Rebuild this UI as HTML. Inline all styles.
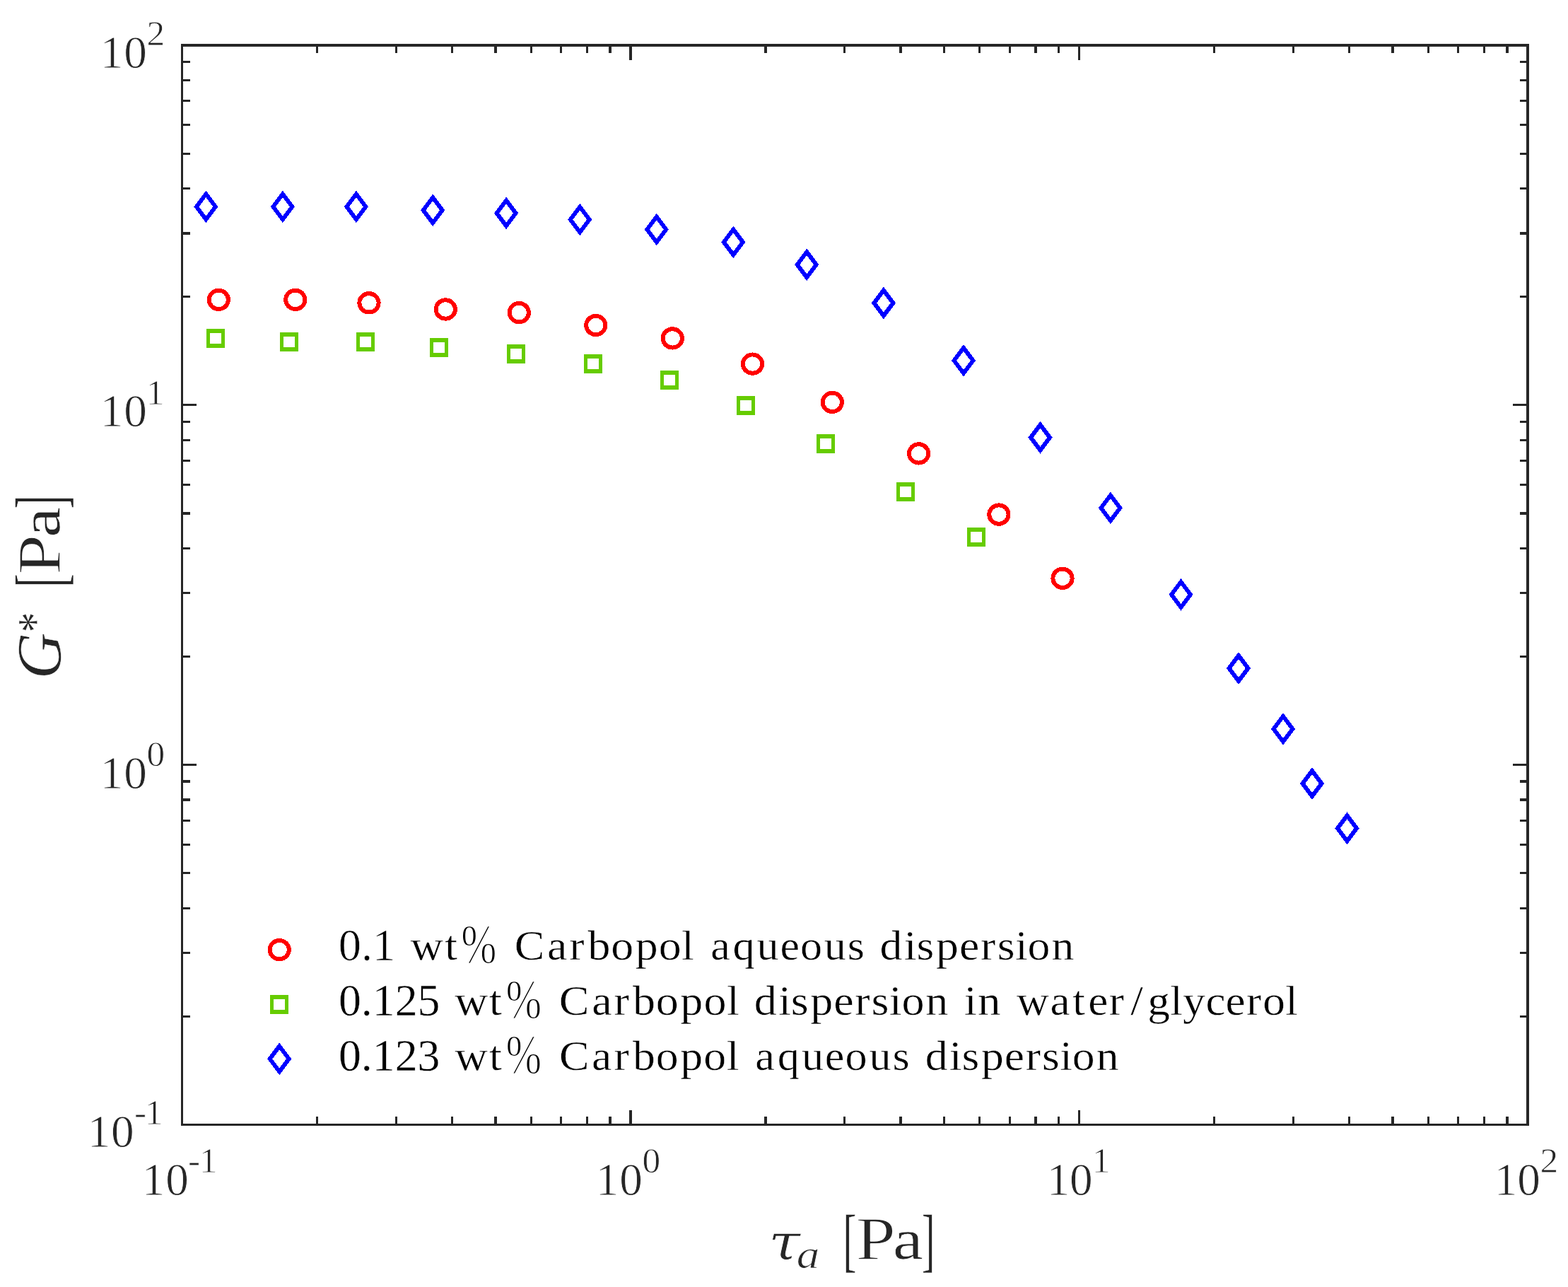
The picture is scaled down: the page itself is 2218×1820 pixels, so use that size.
<!DOCTYPE html>
<html lang="en"><head><meta charset="utf-8"><title>G* versus stress amplitude</title>
<style>
html,body{margin:0;padding:0;background:#fff;}
body{width:2218px;height:1820px;overflow:hidden;}
svg{display:block;}
text{font-family:"Liberation Serif","DejaVu Serif",serif;white-space:pre;stroke-linejoin:round;}
.tl,.al{fill:#262626;}
.lg{fill:#000;}
</style></head><body>
<svg xmlns="http://www.w3.org/2000/svg" width="2218" height="1820" viewBox="0 0 2218 1820">
<rect x="0" y="0" width="2218" height="1820" fill="#ffffff"/>
<g fill="#262626" shape-rendering="crispEdges">
<rect x="447" y="1579" width="3" height="12"/>
<rect x="447" y="64" width="3" height="11"/>
<rect x="258" y="1436" width="11" height="3"/>
<rect x="2150" y="1436" width="11" height="3"/>
<rect x="559" y="1579" width="3" height="12"/>
<rect x="559" y="64" width="3" height="11"/>
<rect x="258" y="1346" width="11" height="3"/>
<rect x="2150" y="1346" width="11" height="3"/>
<rect x="638" y="1579" width="3" height="12"/>
<rect x="638" y="64" width="3" height="11"/>
<rect x="258" y="1283" width="11" height="3"/>
<rect x="2150" y="1283" width="11" height="3"/>
<rect x="699" y="1579" width="4" height="12"/>
<rect x="699" y="64" width="4" height="11"/>
<rect x="258" y="1233" width="11" height="3"/>
<rect x="2150" y="1233" width="11" height="3"/>
<rect x="750" y="1579" width="3" height="12"/>
<rect x="750" y="64" width="3" height="11"/>
<rect x="258" y="1193" width="11" height="3"/>
<rect x="2150" y="1193" width="11" height="3"/>
<rect x="792" y="1579" width="3" height="12"/>
<rect x="792" y="64" width="3" height="11"/>
<rect x="258" y="1159" width="11" height="3"/>
<rect x="2150" y="1159" width="11" height="3"/>
<rect x="829" y="1579" width="3" height="12"/>
<rect x="829" y="64" width="3" height="11"/>
<rect x="258" y="1129" width="11" height="4"/>
<rect x="2150" y="1129" width="11" height="4"/>
<rect x="861" y="1579" width="4" height="12"/>
<rect x="861" y="64" width="4" height="11"/>
<rect x="258" y="1103" width="11" height="4"/>
<rect x="2150" y="1103" width="11" height="4"/>
<rect x="890" y="1570" width="4" height="21"/>
<rect x="890" y="64" width="4" height="21"/>
<rect x="258" y="1080" width="20" height="3"/>
<rect x="2140" y="1080" width="21" height="3"/>
<rect x="1081" y="1579" width="4" height="12"/>
<rect x="1081" y="64" width="4" height="11"/>
<rect x="258" y="927" width="11" height="3"/>
<rect x="2150" y="927" width="11" height="3"/>
<rect x="1193" y="1579" width="3" height="12"/>
<rect x="1193" y="64" width="3" height="11"/>
<rect x="258" y="837" width="11" height="3"/>
<rect x="2150" y="837" width="11" height="3"/>
<rect x="1272" y="1579" width="4" height="12"/>
<rect x="1272" y="64" width="4" height="11"/>
<rect x="258" y="774" width="11" height="3"/>
<rect x="2150" y="774" width="11" height="3"/>
<rect x="1334" y="1579" width="3" height="12"/>
<rect x="1334" y="64" width="3" height="11"/>
<rect x="258" y="724" width="11" height="4"/>
<rect x="2150" y="724" width="11" height="4"/>
<rect x="1384" y="1579" width="3" height="12"/>
<rect x="1384" y="64" width="3" height="11"/>
<rect x="258" y="684" width="11" height="3"/>
<rect x="2150" y="684" width="11" height="3"/>
<rect x="1427" y="1579" width="3" height="12"/>
<rect x="1427" y="64" width="3" height="11"/>
<rect x="258" y="650" width="11" height="3"/>
<rect x="2150" y="650" width="11" height="3"/>
<rect x="1463" y="1579" width="4" height="12"/>
<rect x="1463" y="64" width="4" height="11"/>
<rect x="258" y="621" width="11" height="3"/>
<rect x="2150" y="621" width="11" height="3"/>
<rect x="1496" y="1579" width="3" height="12"/>
<rect x="1496" y="64" width="3" height="11"/>
<rect x="258" y="595" width="11" height="3"/>
<rect x="2150" y="595" width="11" height="3"/>
<rect x="1525" y="1570" width="3" height="21"/>
<rect x="1525" y="64" width="3" height="21"/>
<rect x="258" y="571" width="20" height="3"/>
<rect x="2140" y="571" width="21" height="3"/>
<rect x="1716" y="1579" width="3" height="12"/>
<rect x="1716" y="64" width="3" height="11"/>
<rect x="258" y="418" width="11" height="3"/>
<rect x="2150" y="418" width="11" height="3"/>
<rect x="1828" y="1579" width="3" height="12"/>
<rect x="1828" y="64" width="3" height="11"/>
<rect x="258" y="328" width="11" height="4"/>
<rect x="2150" y="328" width="11" height="4"/>
<rect x="1907" y="1579" width="3" height="12"/>
<rect x="1907" y="64" width="3" height="11"/>
<rect x="258" y="265" width="11" height="3"/>
<rect x="2150" y="265" width="11" height="3"/>
<rect x="1968" y="1579" width="4" height="12"/>
<rect x="1968" y="64" width="4" height="11"/>
<rect x="258" y="216" width="11" height="3"/>
<rect x="2150" y="216" width="11" height="3"/>
<rect x="2019" y="1579" width="3" height="12"/>
<rect x="2019" y="64" width="3" height="11"/>
<rect x="258" y="175" width="11" height="3"/>
<rect x="2150" y="175" width="11" height="3"/>
<rect x="2061" y="1579" width="3" height="12"/>
<rect x="2061" y="64" width="3" height="11"/>
<rect x="258" y="141" width="11" height="3"/>
<rect x="2150" y="141" width="11" height="3"/>
<rect x="2098" y="1579" width="3" height="12"/>
<rect x="2098" y="64" width="3" height="11"/>
<rect x="258" y="112" width="11" height="3"/>
<rect x="2150" y="112" width="11" height="3"/>
<rect x="2130" y="1579" width="4" height="12"/>
<rect x="2130" y="64" width="4" height="11"/>
<rect x="258" y="86" width="11" height="3"/>
<rect x="2150" y="86" width="11" height="3"/>
<rect x="256" y="62" width="1907" height="4"/>
<rect x="256" y="1589" width="1907" height="3"/>
<rect x="256" y="62" width="3" height="1530"/>
<rect x="2159" y="62" width="4" height="1530"/>
</g>
<g fill="none" stroke="#ff0000" stroke-width="5.9" shape-rendering="crispEdges">
<ellipse cx="309.3" cy="423.9" rx="13.65" ry="13.2"/>
<ellipse cx="417.8" cy="423.9" rx="13.65" ry="13.2"/>
<ellipse cx="522.0" cy="428.3" rx="13.65" ry="13.2"/>
<ellipse cx="630.3" cy="437.5" rx="13.65" ry="13.2"/>
<ellipse cx="734.3" cy="442.1" rx="13.65" ry="13.2"/>
<ellipse cx="842.8" cy="460.0" rx="13.65" ry="13.2"/>
<ellipse cx="951.3" cy="478.4" rx="13.65" ry="13.2"/>
<ellipse cx="1064.5" cy="514.6" rx="13.65" ry="13.2"/>
<ellipse cx="1177.3" cy="568.9" rx="13.65" ry="13.2"/>
<ellipse cx="1299.6" cy="641.4" rx="13.65" ry="13.2"/>
<ellipse cx="1412.9" cy="727.6" rx="13.65" ry="13.2"/>
<ellipse cx="1503.0" cy="817.8" rx="13.65" ry="13.2"/>
<ellipse cx="395.2" cy="1343.1" rx="13.65" ry="13.2"/>
</g>
<g fill="#66cc00" fill-rule="evenodd" shape-rendering="crispEdges">
<path d="M292 465h26v27h-26zM297 471h16v15h-16z"/>
<path d="M396 470h26v27h-26zM401 476h16v15h-16z"/>
<path d="M504 470h26v27h-26zM509 476h16v15h-16z"/>
<path d="M608 478h26v27h-26zM613 484h16v15h-16z"/>
<path d="M717 487h26v27h-26zM722 493h16v15h-16z"/>
<path d="M826 501h26v27h-26zM831 507h16v15h-16z"/>
<path d="M934 524h26v27h-26zM939 530h16v15h-16z"/>
<path d="M1042 560h26v27h-26zM1047 566h16v15h-16z"/>
<path d="M1155 614h26v27h-26zM1160 620h16v15h-16z"/>
<path d="M1268 682h26v27h-26zM1273 688h16v15h-16z"/>
<path d="M1368 746h26v27h-26zM1373 752h16v15h-16z"/>
<path d="M382 1407h26v27h-26zM387 1413h16v15h-16z"/>
</g>
<g fill="none" stroke="#0000ff" stroke-width="5.9" stroke-linejoin="miter" shape-rendering="crispEdges">
<path d="M291.4 274.3L304.9 292.3L291.4 310.3L277.9 292.3Z"/>
<path d="M399.9 274.3L413.4 292.3L399.9 310.3L386.4 292.3Z"/>
<path d="M503.9 274.3L517.4 292.3L503.9 310.3L490.4 292.3Z"/>
<path d="M612.2 279.3L625.7 297.3L612.2 315.3L598.7 297.3Z"/>
<path d="M716.1 283.4L729.6 301.4L716.1 319.4L702.6 301.4Z"/>
<path d="M820.3 292.5L833.8 310.5L820.3 328.5L806.8 310.5Z"/>
<path d="M928.8 306.5L942.3 324.5L928.8 342.5L915.3 324.5Z"/>
<path d="M1037.3 324.4L1050.8 342.4L1037.3 360.4L1023.8 342.4Z"/>
<path d="M1141.2 356.3L1154.7 374.3L1141.2 392.3L1127.7 374.3Z"/>
<path d="M1249.9 410.5L1263.4 428.5L1249.9 446.5L1236.4 428.5Z"/>
<path d="M1363.0 491.9L1376.5 509.9L1363.0 527.9L1349.5 509.9Z"/>
<path d="M1471.5 600.6L1485.0 618.6L1471.5 636.6L1458.0 618.6Z"/>
<path d="M1570.9 700.4L1584.4 718.4L1570.9 736.4L1557.4 718.4Z"/>
<path d="M1670.5 822.9L1684.0 840.9L1670.5 858.9L1657.0 840.9Z"/>
<path d="M1752.0 927.0L1765.5 945.0L1752.0 963.0L1738.5 945.0Z"/>
<path d="M1815.0 1012.9L1828.5 1030.9L1815.0 1048.9L1801.5 1030.9Z"/>
<path d="M1856.0 1090.0L1869.5 1108.0L1856.0 1126.0L1842.5 1108.0Z"/>
<path d="M1905.5 1153.3L1919.0 1171.3L1905.5 1189.3L1892.0 1171.3Z"/>
<path d="M395.2 1479.4L408.7 1497.4L395.2 1515.4L381.7 1497.4Z"/>
</g>
<text class="tl" stroke="#fff" stroke-width="0.8"><tspan x="200.7 234.2" y="1690.3" font-size="65.3">10</tspan><tspan x="266.0 282.0" y="1658.3" font-size="51.4">-1</tspan></text>
<text class="tl" stroke="#fff" stroke-width="0.8"><tspan x="842.8 876.2" y="1690.3" font-size="65.3">10</tspan><tspan x="908.6" y="1658.3" font-size="51.4">0</tspan></text>
<text class="tl" stroke="#fff" stroke-width="0.8"><tspan x="1480.8 1513.1" y="1690.3" font-size="65.3">10</tspan><tspan x="1544.8" y="1658.3" font-size="51.4">1</tspan></text>
<text class="tl" stroke="#fff" stroke-width="0.8"><tspan x="2113.8 2146.2" y="1690.3" font-size="65.3">10</tspan><tspan x="2178.4" y="1658.3" font-size="51.4">2</tspan></text>
<text class="tl" stroke="#fff" stroke-width="0.8"><tspan x="123.7 157.1" y="1622.2" font-size="65.3">10</tspan><tspan x="189.9 205.0" y="1590.2" font-size="51.4">-1</tspan></text>
<text class="tl" stroke="#fff" stroke-width="0.8"><tspan x="141.7 175.2" y="1115.3" font-size="65.3">10</tspan><tspan x="207.6" y="1082.8" font-size="51.4">0</tspan></text>
<text class="tl" stroke="#fff" stroke-width="0.8"><tspan x="141.7 175.2" y="603.4" font-size="65.3">10</tspan><tspan x="206.8" y="571.5" font-size="51.4">1</tspan></text>
<text class="tl" stroke="#fff" stroke-width="0.8"><tspan x="141.7 175.2" y="96.4" font-size="65.3">10</tspan><tspan x="207.4" y="64.4" font-size="51.4">2</tspan></text>
<text class="lg" transform="scale(1.0644 1)"><tspan x="449.82" y="1358.37" font-size="64.35" textLength="75.63" lengthAdjust="spacingAndGlyphs" stroke="#fff" stroke-width="0.66">0.1</tspan> <tspan x="545.6 591.1" y="1356.90" font-size="60.10" stroke="#fff" stroke-width="0.45">wt</tspan><tspan x="612.87" y="1361.48" font-size="77.47" textLength="47.16" lengthAdjust="spacingAndGlyphs" stroke="#fff" stroke-width="1.69">%</tspan> <tspan x="683.7 727.1 756.5 781.3 811.9 844.3 875.4 905.7" y="1356.90" font-size="60.01" stroke="#fff" stroke-width="0.45">Carbopol</tspan> <tspan x="944.5 973.8 1005.8 1036.7 1063.4 1095.3 1126.3" y="1356.90" font-size="58.35" stroke="#fff" stroke-width="0.45">aqueous</tspan> <tspan x="1169.3 1201.5 1218.1 1244.0 1275.0 1303.2 1325.3 1349.1 1365.6 1397.5" y="1356.90" font-size="59.92" stroke="#fff" stroke-width="0.45">dispersion</tspan></text>
<text class="lg" transform="scale(1.0854 1)"><tspan x="441.24" y="1436.27" font-size="64.05" textLength="132.26" lengthAdjust="spacingAndGlyphs" stroke="#fff" stroke-width="0.46">0.125</tspan> <tspan x="592.7 637.4" y="1434.90" font-size="59.90" stroke="#fff" stroke-width="0.45">wt</tspan><tspan x="659.31" y="1439.50" font-size="77.51" textLength="46.67" lengthAdjust="spacingAndGlyphs" stroke="#fff" stroke-width="1.72">%</tspan> <tspan x="728.6 771.3 800.2 824.6 854.8 886.6 917.2 947.1" y="1434.90" font-size="59.00" stroke="#fff" stroke-width="0.45">Carbopol</tspan> <tspan x="982.9 1014.5 1030.7 1056.1 1086.4 1114.0 1135.6 1158.9 1175.1 1206.2" y="1434.90" font-size="59.04" stroke="#fff" stroke-width="0.45">dispersion</tspan> <tspan x="1256.4 1274.2" y="1434.90" font-size="60.10" stroke="#fff" stroke-width="0.45">in</tspan> <tspan x="1324.8 1368.7 1397.9 1418.1 1445.4 1473.4 1495.5 1525.1 1541.6 1571.3 1597.1 1624.4 1645.8 1675.1" y="1434.90" font-size="58.35" stroke="#fff" stroke-width="0.45">water/glycerol</tspan></text>
<text class="lg" transform="scale(1.0664 1)"><tspan x="449.16" y="1514.21" font-size="63.86" textLength="134.50" lengthAdjust="spacingAndGlyphs" stroke="#fff" stroke-width="0.33">0.123</tspan> <tspan x="603.5 648.9" y="1512.90" font-size="60.10" stroke="#fff" stroke-width="0.45">wt</tspan><tspan x="671.05" y="1517.50" font-size="77.52" textLength="47.51" lengthAdjust="spacingAndGlyphs" stroke="#fff" stroke-width="1.72">%</tspan> <tspan x="741.7 785.0 814.4 839.2 869.9 902.3 933.4 963.8" y="1512.90" font-size="59.82" stroke="#fff" stroke-width="0.45">Carbopol</tspan> <tspan x="1001.8 1031.2 1063.3 1094.2 1121.0 1153.0 1184.0" y="1512.90" font-size="58.35" stroke="#fff" stroke-width="0.45">aqueous</tspan> <tspan x="1227.2 1259.2 1275.7 1301.5 1332.3 1360.4 1382.3 1406.0 1422.4 1454.1" y="1512.90" font-size="59.74" stroke="#fff" stroke-width="0.45">dispersion</tspan></text>
<text class="al"><tspan x="1087.11" y="1781.22" font-size="70.57" textLength="45.20" lengthAdjust="spacingAndGlyphs" font-style="italic" font-family="DejaVu Serif, serif" stroke="#fff" stroke-width="0.75">τ</tspan><tspan x="1126.67" y="1792.81" font-size="56.15" textLength="32.50" lengthAdjust="spacingAndGlyphs" font-style="italic" stroke="#fff" stroke-width="0.75">a</tspan> <tspan x="1192.50" y="1786.81" font-size="98.77" textLength="18.90" lengthAdjust="spacingAndGlyphs" stroke="#fff" stroke-width="0.48">[</tspan><tspan x="1210.40" y="1780.65" font-size="87.64" textLength="56.43" lengthAdjust="spacingAndGlyphs" stroke="#fff" stroke-width="1.30">P</tspan><tspan x="1263.04" y="1780.38" font-size="81.01" textLength="42.68" lengthAdjust="spacingAndGlyphs" stroke="#fff" stroke-width="0.58">a</tspan><tspan x="1303.89" y="1786.77" font-size="98.63" textLength="18.31" lengthAdjust="spacingAndGlyphs" stroke="#fff" stroke-width="0.37">]</tspan></text>
<text class="al" transform="rotate(-90)"><tspan x="-960.37" y="85.38" font-size="89.16" textLength="65.66" lengthAdjust="spacingAndGlyphs" font-style="italic" stroke="#fff" stroke-width="0.54">G</tspan><tspan x="-894.25" y="72.95" font-size="69.62" textLength="28.39" lengthAdjust="spacingAndGlyphs" stroke="#fff" stroke-width="0.41">*</tspan> <tspan x="-830.62" y="91.01" font-size="99.14" textLength="19.22" lengthAdjust="spacingAndGlyphs" stroke="#fff" stroke-width="0.79">[</tspan><tspan x="-812.80" y="84.64" font-size="85.93" textLength="56.74" lengthAdjust="spacingAndGlyphs" stroke="#fff" stroke-width="1.28">P</tspan><tspan x="-759.66" y="84.14" font-size="78.20" textLength="42.31" lengthAdjust="spacingAndGlyphs" stroke="#fff" stroke-width="0.45">a</tspan><tspan x="-719.21" y="90.92" font-size="98.80" textLength="18.66" lengthAdjust="spacingAndGlyphs" stroke="#fff" stroke-width="0.51">]</tspan></text>
</svg>
</body></html>
